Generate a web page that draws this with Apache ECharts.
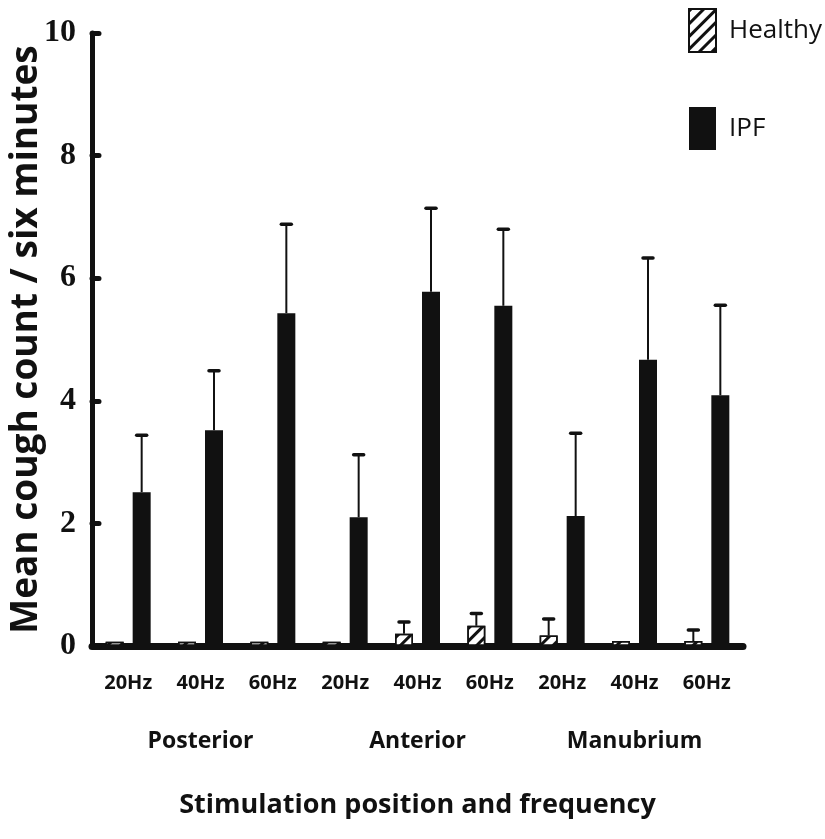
<!DOCTYPE html>
<html>
<head>
<meta charset="utf-8">
<script src="https://cdn.jsdelivr.net/npm/echarts@6/dist/echarts.min.js"></script>
<style>
  html, body { margin: 0; padding: 0; background: #fff; }
  #chart { width: 825px; height: 839px; }
</style>
</head>
<body>
<div id="chart"></div>
<script>
// Stimulation frequency for each bar pair, grouped by chest-wall position
const frequencies = ['20Hz', '40Hz', '60Hz', '20Hz', '40Hz', '60Hz', '20Hz', '40Hz', '60Hz'];
const positions = ['Posterior', 'Anterior', 'Manubrium'];

// Mean cough count over six minutes
const healthyMean = [0.07, 0.07, 0.07, 0.07, 0.20, 0.33, 0.17, 0.08, 0.08];
const ipfMean = [2.51, 3.52, 5.43, 2.10, 5.78, 5.55, 2.12, 4.67, 4.09];

// Upper end of the error bar (mean + SEM); null = no bar drawn
const healthyUpper = [null, null, null, null, 0.39, 0.53, 0.44, null, 0.26];
const ipfUpper = [3.44, 4.49, 6.88, 3.12, 7.14, 6.80, 3.47, 6.33, 5.56];

// Value axis ticks
const yMin = 0, yMax = 10, yStep = 2;

const INK = '#111';
const BAR_W = 18;
const BAR_GAP = 9;
const PAIR_SHIFT = (BAR_W + BAR_GAP) / 2;

function errorData(means, uppers) {
  const out = [];
  uppers.forEach((u, i) => { if (u != null) out.push([i, means[i], u]); });
  return out;
}

function errorRenderer(shift) {
  return function (params, api) {
    const i = api.value(0);
    const base = api.coord([i, api.value(1)]);
    const top = api.coord([i, api.value(2)]);
    const x = base[0] + shift;
    return {
      type: 'group',
      children: [
        { type: 'line', shape: { x1: x, y1: base[1], x2: x, y2: top[1] },
          style: { stroke: INK, lineWidth: 2 } },
        { type: 'line', shape: { x1: x - 5, y1: top[1], x2: x + 5, y2: top[1] },
          style: { stroke: INK, lineWidth: 3.5, lineCap: 'round' } }
      ]
    };
  };
}

const chart = echarts.init(document.getElementById('chart'), null, { renderer: 'canvas' });

chart.setOption({
  backgroundColor: '#fff',
  animation: false,
  legend: {
    data: ['Healthy', 'IPF'],
    orient: 'vertical',
    left: 683,
    top: 3,
    itemWidth: 27,
    itemHeight: 43,
    itemGap: 54,
    icon: 'rect',
    textStyle: { fontFamily: 'Open Sans', fontSize: 26, color: INK, padding: [0, 0, 0, 8] }
  },
  grid: { left: 92, right: 82, top: 33, bottom: 193, containLabel: false, outerBoundsMode: 'none' },
  xAxis: [
    {
      type: 'category',
      data: frequencies,
      axisLine: { lineStyle: { color: INK, width: 7, cap: 'round' } },
      axisTick: { show: false },
      axisLabel: { margin: 27, fontFamily: 'Open Sans', fontWeight: 'bold', fontSize: 20, color: INK },
      name: 'Stimulation position and frequency',
      nameLocation: 'middle',
      nameGap: 146,
      nameMoveOverlap: false,
      nameTextStyle: { fontFamily: 'Open Sans', fontWeight: 'bold', fontSize: 27, color: INK }
    },
    {
      type: 'category',
      position: 'bottom',
      data: positions,
      axisLine: { show: false },
      axisTick: { show: false },
      axisLabel: { margin: 84, fontFamily: 'Open Sans', fontWeight: 'bold', fontSize: 23, color: INK }
    }
  ],
  yAxis: {
    type: 'value',
    min: yMin,
    max: yMax,
    interval: yStep,
    splitLine: { show: false },
    axisLine: { show: true, lineStyle: { color: INK, width: 5 } },
    axisTick: { show: true, inside: true, length: 7, lineStyle: { color: INK, width: 5, cap: 'round' } },
    axisLabel: { margin: 16, fontFamily: 'Liberation Serif', fontWeight: 'bold', fontSize: 32, color: INK },
    name: 'Mean cough count / six minutes',
    nameLocation: 'middle',
    nameGap: 47,
    nameMoveOverlap: false,
    nameTextStyle: { fontFamily: 'Open Sans', fontWeight: 'bold', fontSize: 37, color: INK }
  },
  series: [
    {
      name: 'Healthy',
      type: 'bar',
      data: healthyMean,
      barWidth: BAR_W,
      barGap: (BAR_GAP / BAR_W * 100) + '%',
      itemStyle: {
        color: '#fff',
        borderColor: INK,
        borderWidth: 1.5,
        decal: {
          symbol: 'rect',
          symbolSize: 1,
          color: INK,
          dashArrayX: [1, 0],
          dashArrayY: [2.5, 6],
          rotation: -Math.PI / 4
        }
      }
    },
    {
      name: 'IPF',
      type: 'bar',
      data: ipfMean,
      barWidth: BAR_W,
      itemStyle: { color: INK }
    },
    {
      name: 'Healthy SEM',
      type: 'custom',
      data: errorData(healthyMean, healthyUpper),
      encode: { x: 0, y: 2 },
      renderItem: errorRenderer(-PAIR_SHIFT),
      z: 5
    },
    {
      name: 'IPF SEM',
      type: 'custom',
      data: errorData(ipfMean, ipfUpper),
      encode: { x: 0, y: 2 },
      renderItem: errorRenderer(PAIR_SHIFT),
      z: 5
    }
  ]
});
</script>
</body>
</html>
